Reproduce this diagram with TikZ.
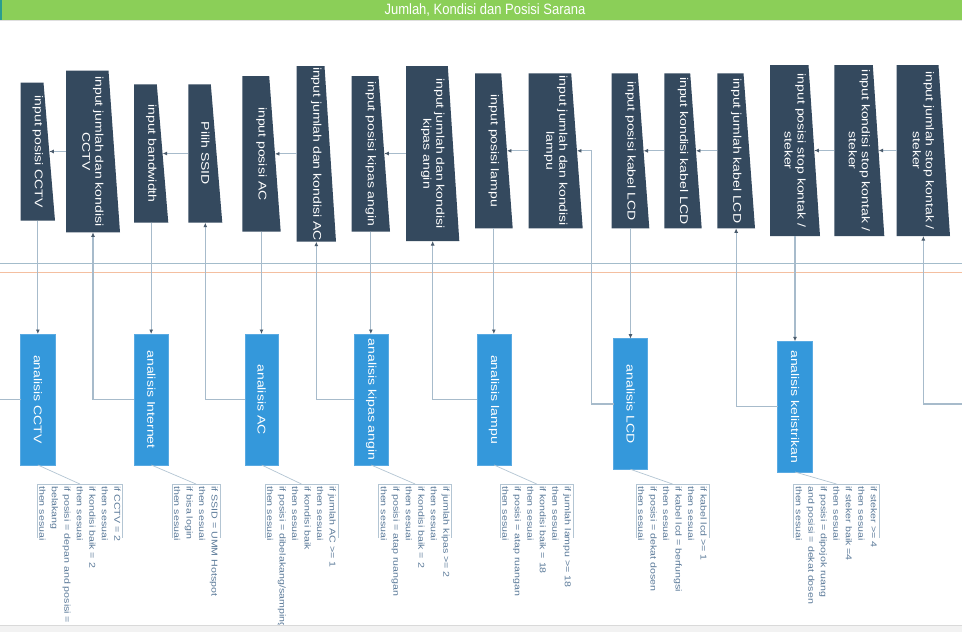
\documentclass[tikz,border=0pt]{standalone}
\usepackage{fontspec}
\setmainfont{Liberation Sans}
\newfontfamily\stfont[FakeStretch=1.25]{Liberation Sans}
\usetikzlibrary{arrows.meta,calc}
\definecolor{dark}{HTML}{34495E}
\definecolor{blu}{HTML}{3498DB}
\definecolor{blub}{HTML}{5AAAE2}
\definecolor{cline}{HTML}{A7BBCB}
\definecolor{tipc}{HTML}{4A5B6C}
\definecolor{annc}{HTML}{5B7A99}
\definecolor{brk}{HTML}{B3C5D3}
\definecolor{lanec}{HTML}{A3BCCB}
\definecolor{orng}{HTML}{F4BFA0}
\definecolor{grn}{HTML}{8BCF58}
\definecolor{teal}{HTML}{2A9D8F}

\tikzset{
  boxarea/.style={rectangle, inner sep=0pt, outer sep=0pt, draw=none},
  anastyle/.style={rectangle, inner sep=0pt, outer sep=0pt, fill=blu, draw=blub, line width=0.6pt},
  boxlabel/.style={rotate=-90, text=white, align=center, inner sep=0pt,
    font=\stfont\fontsize{11.2}{13}\selectfont},
  notestyle/.style={rotate=-90, anchor=north west, align=left, text=annc, inner sep=2pt,
    font=\stfont\fontsize{8.5}{12.5}\selectfont},
  link/.style={draw=cline, line width=1.1pt},
  arr/.style={link, -{Latex[length=4.5pt,width=4pt,color=tipc]}},
  annline/.style={draw=brk, line width=0.7pt},
}

% name, L, T, R(bottom right), B, text
\newcommand\inbox[6]{%
  \fill[dark] (#2,#3) -- ({#4-11.5},#3) -- (#4,#5) -- (#2,#5) -- cycle;
  \node[boxarea, minimum width={(#4)-(#2)}, minimum height={(#5)-(#3)}] (#1) at ({(#2+#4)/2},{(#3+#5)/2}) {};
  \node[boxlabel] (#1t) at (#1.center) {#6};
  \coordinate (#1s) at ($(#1.east)+(-5.75,0)$);
}
% name, L, T, R, B, text
\newcommand\anabox[6]{%
  \node[anastyle, minimum width={(#4)-(#2)}, minimum height={(#5)-(#3)}] (#1) at ({(#2+#4)/2},{(#3+#5)/2}) {};
  \node[boxlabel] (#1t) at (#1.center) {#6};
}
% name, right x, text
\newcommand\annot[3]{%
  \node[notestyle] (#1) at (#2,484) {#3};
  \draw[annline] ([yshift=-54pt]#1.south west) -- (#1.south west) -- (#1.north west) -- ([yshift=-54pt]#1.north west);
}

\begin{document}
\begin{tikzpicture}[x=1pt,y=-1pt]
\useasboundingbox (0,0) rectangle (962,632);
\fill[white] (0,0) rectangle (962,632);

% title bar
\fill[grn] (0,0) rectangle (962,20);
\fill[teal] (0,0) rectangle (2,20);
\draw[gray!25, line width=0.8pt] (0,20.8) -- (962,20.8);
\node[text=white, font=\fontsize{13}{15}\selectfont, inner sep=0pt] (title) at (485,10.5) {\scalebox{1}[1.15]{Jumlah, Kondisi dan Posisi Sarana}};

% lanes
\draw[lanec, line width=1pt] (0,263) -- (962,263);
\draw[orng, line width=1pt] (0,272) -- (962,272);

% input boxes
\inbox{b1}{20.7}{82.7}{55}{220.7}{input posisi CCTV}
\inbox{b2}{66}{70.7}{120}{232.3}{input jumlah dan kondisi\\CCTV}
\inbox{b3}{134}{84.3}{168.3}{222.7}{input bandwidth}
\inbox{b4}{188.3}{84.3}{222.3}{222.7}{Pilih SSID}
\inbox{b5}{242.3}{76}{280.7}{231.7}{input posisi AC}
\inbox{b6}{296.7}{66}{336}{241.7}{input jumlah dan kondisi AC}
\inbox{b7}{351.7}{76}{390}{231.7}{input posisi kipas angin}
\inbox{b8}{406}{66}{459.3}{241}{input jumlah dan kondisi\\kipas angin}
\inbox{b9}{475}{73.3}{512.7}{228.3}{input posisi lampu}
\inbox{b10}{528.7}{73.3}{582.7}{228.3}{input jumlah dan kondisi\\lampu}
\inbox{b11}{611.7}{73.3}{649.3}{228.3}{input posisi kabel LCD}
\inbox{b12}{664.3}{73.3}{701.7}{228.3}{input kondisi kabel LCD}
\inbox{b13}{717.3}{73.3}{755}{228.3}{input jumlah kabel LCD}
\inbox{b14}{770}{65}{820}{236}{input posisi stop kontak /\\steker}
\inbox{b15}{834.3}{65}{884.3}{236}{input kondisi stop kontak /\\steker}
\inbox{b16}{896.7}{65}{950}{236}{input jumlah stop kontak /\\steker}

% analysis boxes
\anabox{a1}{20.7}{334}{55}{465}{analisis CCTV}
\anabox{a2}{134.3}{334}{168.3}{465}{analisis Internet}
\anabox{a3}{245}{334}{278.3}{465}{analisis AC}
\anabox{a4}{354}{334}{388.3}{465}{analisis kipas angin}
\anabox{a5}{477}{334}{511}{465}{analisis lampu}
\anabox{a6}{613.7}{338.7}{647.3}{469.3}{analisis LCD}
\anabox{a7}{777.7}{341.3}{812.3}{472}{analisis kelistrikan}

% free ends
\coordinate (offL) at (0,399.5);
\coordinate (offR) at (962,404);
\coordinate (k6) at (591.7,404.3);

% horizontal arrows between input boxes
\draw[arr] (b2.west) -- (b2.west -| b1s);
\draw[arr] (b4.west) -- (b4.west -| b3s);
\draw[arr] (b6.west) -- (b6.west -| b5s);
\draw[arr] (b8.west) -- (b8.west -| b7s);
\draw[arr] (b10.west) -- (b10.west -| b9s);
\draw[arr] (b13.west) -- (b13.west -| b12s);
\draw[arr] (b12.west) -- (b12.west -| b11s);
\draw[arr] (b16.west) -- (b16.west -| b15s);
\draw[arr] (b15.west) -- (b15.west -| b14s);

% down arrows into analysis
\draw[arr] (b1.south) -- (b1.south |- a1.north);
\draw[arr] (b3.south) -- (b3.south |- a2.north);
\draw[arr] (b5.south) -- (b5.south |- a3.north);
\draw[arr] (b7.south) -- (b7.south |- a4.north);
\draw[arr] (b9.south) -- (b9.south |- a5.north);
\draw[arr] (b11.south) -- (b11.south |- a6.north);
\draw[arr] (b14.south) -- (b14.south |- a7.north);

% return arrows from analysis to next input
\draw[link] (a1.west) -- (a1.west -| offL);
\draw[arr] (a2.west) -| (b2.south);
\draw[arr] (a3.west) -| (b4.south);
\draw[arr] (a4.west) -| (b6.south);
\draw[arr] (a5.west) -| (b8.south);
\draw[arr] (a6.west) -- (a6.west -| k6) -- (k6 |- b10s) -- (b10s);
\draw[arr] (a7.west) -| (b13.south);
\draw[arr] (offR) -| (b16.south);

% annotations
\annot{n1}{122.7}{if CCTV = 2\\then sesuai\\if kondisi baik = 2\\then sesuai\\if posisi = depan and posisi =\\belakang\\then sesuai}
\annot{n2}{220}{if SSID = UMM Hotspot\\then sesuai\\if bisa login\\then sesuai}
\annot{n3}{338}{if jumlah AC >= 1\\then sesuai\\if kondisi baik\\then sesuai\\if posisi = dibelakang/samping\\then sesuai}
\annot{n4}{451.7}{if jumlah kipas >= 2\\then sesuai\\if kondisi baik = 2\\then sesuai\\if posisi = atap ruangan\\then sesuai}
\annot{n5}{573.3}{if jumlah lampu >= 18\\then sesuai\\if kondisi baik = 18\\then sesuai\\if posisi = atap ruangan\\then sesuai}
\annot{n6}{709}{if kabel lcd >= 1\\then sesuai\\if kabel lcd = berfungsi\\then sesuai\\if posisi = dekat dosen\\then sesuai}
\annot{n7}{879.3}{if steker >= 4\\then sesuai\\if steker baik =4\\then sesuai\\if posisi = dipojok ruang\\and posisi = dekat dosen\\then sesuai}

\draw[annline] (a1.south) -- ($(n1.south west)!0.5!(n1.north west)$);
\draw[annline] (a2.south) -- ($(n2.south west)!0.5!(n2.north west)$);
\draw[annline] (a3.south) -- ($(n3.south west)!0.5!(n3.north west)$);
\draw[annline] (a4.south) -- ($(n4.south west)!0.5!(n4.north west)$);
\draw[annline] (a5.south) -- ($(n5.south west)!0.5!(n5.north west)$);
\draw[annline] (a6.south) -- ($(n6.south west)!0.5!(n6.north west)$);
\draw[annline] (a7.south) -- ($(n7.south west)!0.5!(n7.north west)$);

% bottom band
\fill[gray!10] (0,625) rectangle (962,632);
\draw[gray!30, line width=0.8pt] (0,625) -- (962,625);
\end{tikzpicture}
\end{document}
